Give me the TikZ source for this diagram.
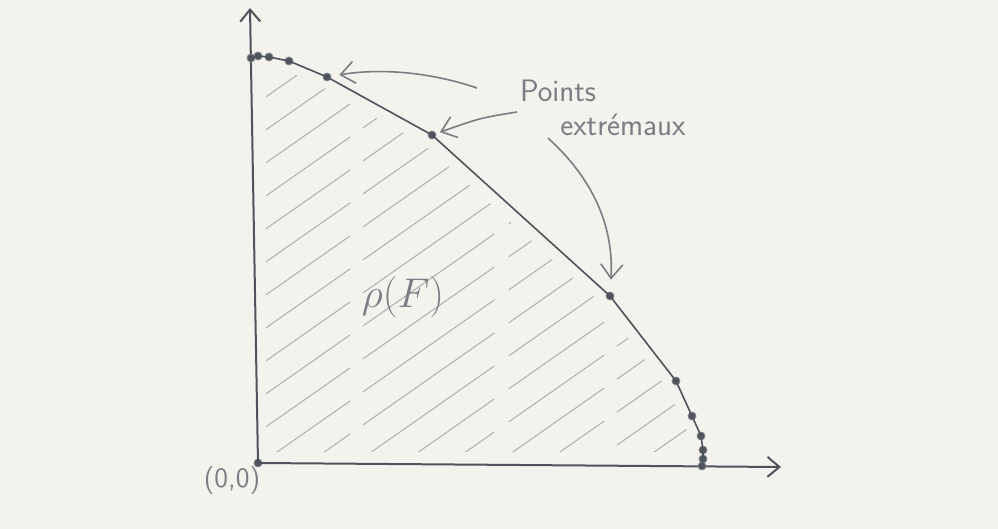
\documentclass[tikz,border=0pt]{standalone}
\usetikzlibrary{arrows.meta}
\definecolor{cpaper}{HTML}{F4F2EC}
\definecolor{cpencil}{HTML}{4E535C}
\definecolor{cgrey}{HTML}{7A7D84}
\definecolor{chatch}{HTML}{ABADB3}
\tikzset{
  every picture/.style={x=0.5pt, y=-0.5pt},
  axis/.style={draw=cpencil, line width=1pt, -{Straight Barb[length=6pt, width=10pt, line width=1pt]}},
  front/.style={draw=cpencil, line width=0.8pt, line join=round},
  dot/.style={circle, fill=cpencil, draw=cpencil!70, inner sep=0pt, minimum size=4pt},
  pointer/.style={draw=cgrey, line width=0.8pt, -{Straight Barb[length=7pt, width=11pt, line width=0.8pt]}},
  hatch/.style={draw=chatch, line width=0.5pt, line cap=round, dash pattern=on 58pt off 8pt on 80pt off 9pt},
  hand/.style={text=cgrey, font=\sffamily\fontsize{15.5}{18}\selectfont, inner sep=1pt},
}
\begin{document}
\begin{tikzpicture}
  \fill[cpaper] (0,0) rectangle (998,529);
  \useasboundingbox (0,0) rectangle (998,529);
  \begin{scope}
    \clip (266,72) -- (286,70) -- (324,88) -- (426,146) -- (602,304) -- (666,387) -- (686,427) -- (692,452) -- (266,452) -- cycle;
    \foreach \c in {250,283,...,950}
      \draw[hatch] (255,{\c-178.5}) -- (720,{\c-504});
  \end{scope}
  \node[dot] (o) at (258,463) {};
  \coordinate (ytip) at (250,8);
  \coordinate (xtip) at (781,467);
  \draw[axis] (o.center) -- (ytip);
  \draw[axis] (o.center) -- (xtip);
  \foreach \n/\p in {0/{251,58}, 1/{258,56}, 2/{269,57}, 3/{289,61}, 4/{327,77}, 5/{432,135}, 6/{610,296},
                     7/{676,381}, 8/{692,416}, 9/{701,436}, 10/{703,450}, 11/{703,459}, 12/{702,466}}
    \node[dot] (p\n) at (\p) {};
  \draw[front] (p0.center) \foreach \i in {1,...,12} { -- (p\i.center) };
  \node[hand] (pts) at (558,91) {Points};
  \node[hand] (ext) at (623,125) {extrémaux};
  \node[hand, font=\fontsize{21}{24}\selectfont] (rho) at (403,297) {$\rho(F)$};
  \node[hand, font=\sffamily\fontsize{14}{17}\selectfont] (orig) at (232,481) {(0,0)};
  \coordinate (a1) at (477,88);
  \coordinate (a2) at (517,112);
  \coordinate (a3) at (548,138);
  \draw[pointer, shorten >=4pt] (a1) .. controls (430,72) and (380,68) .. (p4);
  \draw[pointer, shorten >=2pt] (a2) .. controls (480,118) .. (p5);
  \draw[pointer, shorten >=6pt] (a3) .. controls (592,178) and (614,225) .. (p6);
\end{tikzpicture}
\end{document}
